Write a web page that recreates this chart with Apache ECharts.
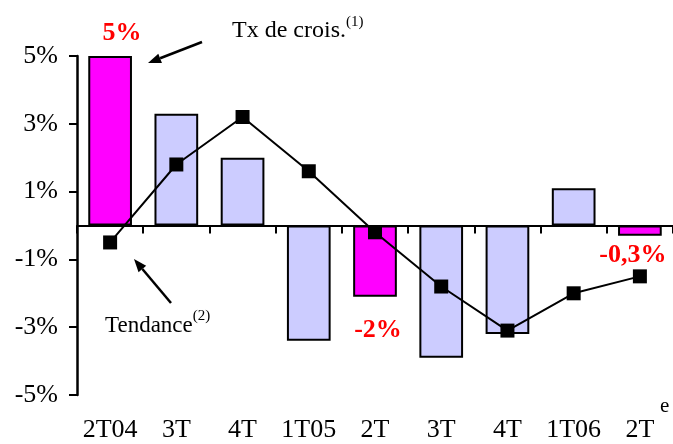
<!DOCTYPE html>
<html>
<head>
<meta charset="utf-8">
<script src="https://cdn.jsdelivr.net/npm/echarts@6/dist/echarts.min.js"></script>
<style>
  html, body { margin: 0; padding: 0; background: #fff; }
  #chart { width: 673px; height: 444px; }
</style>
</head>
<body>
<div id="chart"></div>
<script>
// trimestres
const quarters = ['2T04', '3T', '4T', '1T05', '2T', '3T', '4T', '1T06', '2T']
// taux de croissance (barres), en %
const growth = [5, 3.3, 2.0, -3.4, -2.1, -3.9, -3.2, 1.1, -0.3]
// tendance (ligne), en %
const trend = [-0.5, 1.8, 3.2, 1.6, -0.2, -1.8, -3.1, -2.0, -1.5]
// étiquettes rouges sur certaines barres
const barLabels = ['5%', '', '', '', '-2%', '', '', '', '-0,3%']

const FONT = '"Liberation Serif", "DejaVu Serif", serif'
const chart = echarts.init(document.getElementById('chart'))

const labelOffsets = { 0: [12, 0], 4: [3, 0], 8: [-7, 0] }
const barData = growth.map((v, i) => {
  const hasLabel = barLabels[i] !== ''
  return {
    value: v,
    itemStyle: { color: hasLabel ? '#ff00ff' : '#ccccff' },
    label: {
      show: hasLabel,
      formatter: barLabels[i],
      position: v >= 0 ? 'top' : 'bottom',
      distance: v >= 0 ? 10 : (i === 4 ? 21 : 7),
      offset: labelOffsets[i] || [0, 0]
    }
  }
})

// flèche d'annotation
const arrow = (x1, y1, x2, y2) => {
  const a = Math.atan2(y2 - y1, x2 - x1)
  const L = 13, W = 5
  const bx = x2 - L * Math.cos(a), by = y2 - L * Math.sin(a)
  return [
    { type: 'line', shape: { x1, y1, x2: bx, y2: by }, style: { stroke: '#000', lineWidth: 2.5 } },
    { type: 'polygon', shape: { points: [[x2, y2], [bx + W * Math.sin(a), by - W * Math.cos(a)], [bx - W * Math.sin(a), by + W * Math.cos(a)]] }, style: { fill: '#000' } }
  ]
}

const supText = (main, sup, size) => ({
  text: '{a|' + main + '}{s|' + sup + '}',
  rich: {
    a: { fontSize: size, fontFamily: FONT, fill: '#000', verticalAlign: 'bottom', lineHeight: 28 },
    s: { fontSize: 15, fontFamily: FONT, fill: '#000', verticalAlign: 'top', lineHeight: 28, padding: [0, 0, 13, 0] }
  }
})

chart.setOption({
  animation: false,
  textStyle: { fontFamily: FONT },
  grid: { left: 77, right: 0, top: 56, bottom: 49 },
  xAxis: [
    {
      type: 'category', data: quarters,
      axisLine: { onZero: true, lineStyle: { color: '#000', width: 2 } },
      axisTick: { show: true, length: 8, lineStyle: { color: '#000', width: 2 } },
      axisLabel: { show: false }
    },
    {
      type: 'category', data: quarters, position: 'bottom',
      axisLine: { show: false }, axisTick: { show: false },
      axisLabel: { color: '#000', fontSize: 26, fontFamily: FONT, margin: 22, interval: 0 }
    }
  ],
  yAxis: {
    type: 'value', min: -5, max: 5, interval: 2,
    axisLine: { show: true, lineStyle: { color: '#000', width: 2.5 } },
    axisTick: { show: true, length: 8, lineStyle: { color: '#000', width: 2 } },
    splitLine: { show: false },
    axisLabel: { color: '#000', fontSize: 26, fontFamily: FONT, margin: 19, formatter: v => v + '%' }
  },
  series: [
    {
      type: 'bar', data: barData, barWidth: '66%',
      itemStyle: { borderColor: '#000', borderWidth: 2 },
      label: { color: '#ff0000', fontSize: 26, fontWeight: 'bold', fontFamily: FONT }
    },
    {
      type: 'line', data: trend, z: 5,
      symbol: 'rect', symbolSize: 14,
      lineStyle: { color: '#000', width: 2 },
      itemStyle: { color: '#000' }
    }
  ],
  graphic: [
    ...arrow(202, 42, 148, 63),
    ...arrow(171, 303, 134, 259),
    { type: 'text', left: 232, top: 15, style: supText('Tx de crois.', '(1)', 24) },
    { type: 'text', left: 105, top: 309, style: supText('Tendance', '(2)', 23) },
    { type: 'text', left: 660, top: 396, style: { text: 'e', fontSize: 21, fontFamily: FONT, fill: '#000' } }
  ]
})
</script>
</body>
</html>
